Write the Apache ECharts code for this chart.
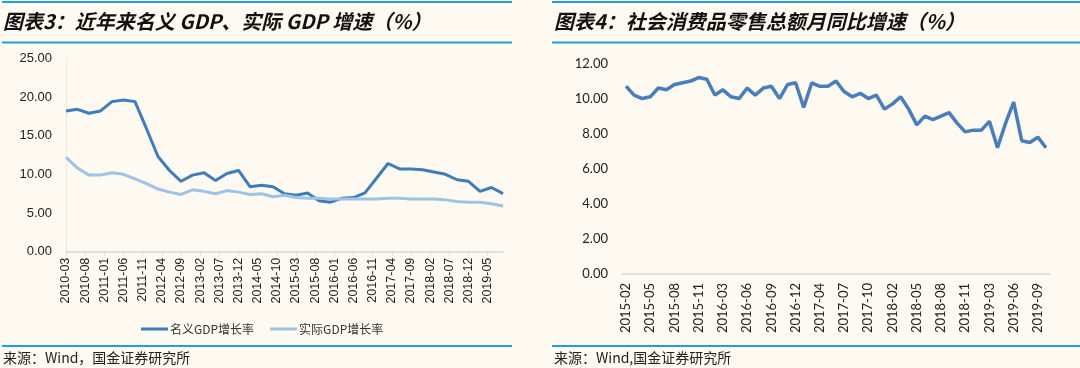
<!DOCTYPE html>
<html><head><meta charset="utf-8">
<script src="https://cdn.jsdelivr.net/npm/echarts@6/dist/echarts.min.js"></script>
<style>html,body{margin:0;padding:0;background:#FEFAF1;}#c{width:1080px;height:368px;}</style>
</head><body><div id="c"></div>
<script>
// ---- Chart 3: quarterly GDP growth, plotted on a monthly axis ----
const gdpQuarters = ["2010-03","2010-06","2010-09","2010-12","2011-03","2011-06","2011-09","2011-12",
"2012-03","2012-06","2012-09","2012-12","2013-03","2013-06","2013-09","2013-12",
"2014-03","2014-06","2014-09","2014-12","2015-03","2015-06","2015-09","2015-12",
"2016-03","2016-06","2016-09","2016-12","2017-03","2017-06","2017-09","2017-12",
"2018-03","2018-06","2018-09","2018-12","2019-03","2019-06","2019-09"];
const nominalGDP = [18.2,18.4,17.9,18.2, 19.4,19.6,19.4,15.9, 12.3,10.5,9.1,9.9, 10.2,9.2,10.1,10.5,
 8.4,8.6,8.4,7.5, 7.3,7.6,6.6,6.4, 6.9,7.0,7.6,9.5, 11.4,10.7,10.7,10.6, 10.3,10.0,9.3,9.1, 7.8,8.3,7.5];
const realGDP = [12.2,10.8,9.9,9.9, 10.2,10.0,9.4,8.8, 8.1,7.7,7.4,8.0, 7.8,7.5,7.9,7.7,
 7.4,7.5,7.1,7.3, 7.0,6.9,6.9,6.8, 6.8,6.8,6.8,6.8, 6.9,6.9,6.8,6.8, 6.8,6.7,6.5,6.4, 6.4,6.2,5.9];
const gdpYTicks = {min:0, max:25, interval:5};
const gdpSeriesNames = ["名义GDP增长率","实际GDP增长率"];

// ---- Chart 4: monthly retail sales YoY (no January data) ----
const retailMonths = ["2015-02","2015-03","2015-04","2015-05","2015-06","2015-07","2015-08","2015-09","2015-10","2015-11","2015-12",
"2016-02","2016-03","2016-04","2016-05","2016-06","2016-07","2016-08","2016-09","2016-10","2016-11","2016-12",
"2017-02","2017-03","2017-04","2017-05","2017-06","2017-07","2017-08","2017-09","2017-10","2017-11","2017-12",
"2018-02","2018-03","2018-04","2018-05","2018-06","2018-07","2018-08","2018-09","2018-10","2018-11","2018-12",
"2019-02","2019-03","2019-04","2019-05","2019-06","2019-07","2019-08","2019-09","2019-10"];
const retailYoY = [10.7,10.2,10.0,10.1,10.6,10.5,10.8,10.9,11.0,11.2,11.1,
 10.2,10.5,10.1,10.0,10.6,10.2,10.6,10.7,10.0,10.8,10.9,
 9.5,10.9,10.7,10.7,11.0,10.4,10.1,10.3,10.0,10.2,9.4,
 9.7,10.1,9.4,8.5,9.0,8.8,9.0,9.2,8.6,8.1,8.2,
 8.2,8.7,7.2,8.6,9.8,7.6,7.5,7.8,7.2];
const retailYTicks = {min:0, max:12, interval:2};

// monthly category axis from first to last quarter
function monthRange(a, b){
  const out=[]; let [y,m]=a.split('-').map(Number); const [yb,mb]=b.split('-').map(Number);
  while(y<yb || (y===yb && m<=mb)){ out.push(y+'-'+String(m).padStart(2,'0')); m++; if(m>12){m=1;y++;} }
  return out;
}
const gdpMonths = monthRange(gdpQuarters[0], gdpQuarters[gdpQuarters.length-1]);
function onMonths(vals){ const map={}; gdpQuarters.forEach((q,i)=>map[q]=vals[i]); return gdpMonths.map(m=> m in map ? map[m] : null); }

const BLUE_RULE = '#1E9FE2';
const titleStyle = {fill:'#111', fontSize:20, fontWeight:'bold', fontStyle:'italic', fontFamily:'"Noto Sans CJK SC", sans-serif'};
const srcStyle = {fill:'#222', fontSize:14, fontFamily:'"Noto Sans CJK SC", sans-serif'};
function rule(x1,x2,y){ return {type:'line', shape:{x1:x1,y1:y,x2:x2,y2:y}, style:{stroke:BLUE_RULE, lineWidth:2}, silent:true}; }

const chart = echarts.init(document.getElementById('c'), null, {renderer:'canvas'});
chart.setOption({
  backgroundColor:'#FEFAF1',
  animation:false,
  graphic:[
    rule(2,512,2), rule(2,512,42.5), rule(2,512,346),
    rule(552,1080,2), rule(552,1080,42.5), rule(552,1080,346),
    {type:'text', left:3, top:11, style:Object.assign({text:'图表3：近年来名义 GDP、实际 GDP 增速（%）'}, titleStyle)},
    {type:'text', left:554, top:11, style:Object.assign({text:'图表4：社会消费品零售总额月同比增速（%）'}, titleStyle)},
    {type:'text', left:3, top:351, style:Object.assign({text:'来源：Wind，国金证券研究所'}, srcStyle)},
    {type:'text', left:554, top:351, style:Object.assign({text:'来源：Wind,国金证券研究所'}, srcStyle)}
  ],
  legend:{
    data:gdpSeriesNames, left:136, top:318, itemWidth:27, itemHeight:3, itemGap:16, icon:'rect',
    textStyle:{fontSize:12, color:'#333', fontFamily:'"Noto Sans CJK SC", sans-serif', padding:[0,0,0,-3]}
  },
  grid:[
    {left:66, top:58.3, width:437, height:193.4},
    {left:622, top:63.5, width:428, height:210.5}
  ],
  xAxis:[
    {type:'category', gridIndex:0, data:gdpMonths, boundaryGap:false,
     axisLine:{lineStyle:{color:'#D9D9D9', width:1.5}},
     axisTick:{show:true, interval:4, length:4, lineStyle:{color:'#D9D9D9'}},
     axisLabel:{interval:4, rotate:90, margin:6, fontSize:12.5, color:'#222', fontFamily:'"Liberation Sans", Arial, sans-serif'}},
    {type:'category', gridIndex:1, data:retailMonths, boundaryGap:true,
     axisLine:{lineStyle:{color:'#D9D9D9', width:1.5}},
     axisTick:{show:false},
     axisLabel:{interval:2, rotate:90, margin:9, fontSize:13, color:'#222', fontFamily:'Lato, sans-serif'}}
  ],
  yAxis:[
    {type:'value', gridIndex:0, min:gdpYTicks.min, max:gdpYTicks.max, interval:gdpYTicks.interval,
     axisLine:{show:true, lineStyle:{color:'#EEEAE0'}}, axisTick:{show:false}, splitLine:{show:false},
     axisLabel:{margin:14, fontSize:13, color:'#222', fontFamily:'"Liberation Sans", Arial, sans-serif',
       formatter:v=>v.toFixed(2)}},
    {type:'value', gridIndex:1, min:retailYTicks.min, max:retailYTicks.max, interval:retailYTicks.interval,
     axisLine:{show:false}, axisTick:{show:false}, splitLine:{show:false},
     axisLabel:{margin:14, fontSize:13, color:'#222', fontFamily:'Lato, sans-serif',
       formatter:v=>v.toFixed(2)}}
  ],
  series:[
    {name:gdpSeriesNames[0], type:'line', xAxisIndex:0, yAxisIndex:0, data:onMonths(nominalGDP), connectNulls:true,
     showSymbol:false, symbol:'none', lineStyle:{color:'#3F7CBA', width:3}, itemStyle:{color:'#3F7CBA'}},
    {name:gdpSeriesNames[1], type:'line', xAxisIndex:0, yAxisIndex:0, data:onMonths(realGDP), connectNulls:true,
     showSymbol:false, symbol:'none', lineStyle:{color:'#9DC3E6', width:3}, itemStyle:{color:'#9DC3E6'}},
    {name:'社会消费品零售总额同比', type:'line', xAxisIndex:1, yAxisIndex:1, data:retailYoY,
     showSymbol:false, symbol:'none', lineStyle:{color:'#4A7EBB', width:3.5}, itemStyle:{color:'#4A7EBB'}}
  ]
});
</script></body></html>
